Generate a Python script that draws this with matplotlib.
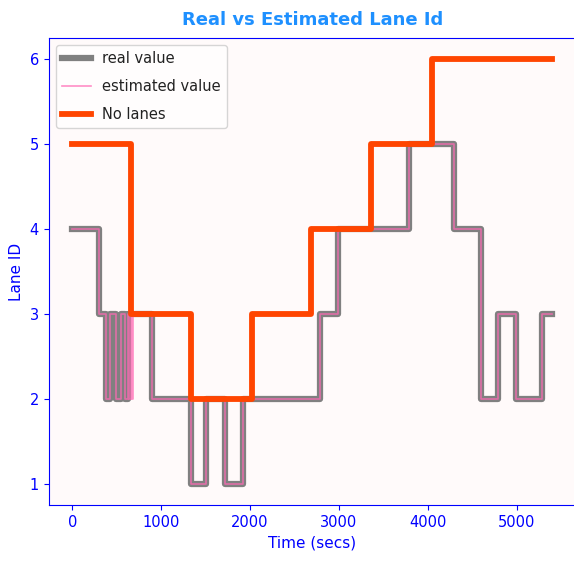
import matplotlib;
matplotlib.use("Agg");
import matplotlib.pyplot as plt;

# step changes (time in secs, lane id), held until the next change
realTimes = [0, 300, 375, 425, 485, 545, 590, 625, 900, 1335, 1504, 1721, 1924,
             2786, 2992, 3791, 4297, 4597, 4796, 4998, 5290, 5403];
realLanes = [4, 3, 2, 3, 2, 3, 2, 3, 2, 1, 2, 1, 2,
             3, 4, 5, 4, 2, 3, 2, 3, 3];

estTimes = [0, 300, 375, 425, 485, 545, 590, 625, 640, 655, 670, 685, 900, 1335, 1504,
            1721, 1924, 2786, 2992, 3791, 4297, 4597, 4796, 4998, 5290, 5403];
estLanes = [4, 3, 2, 3, 2, 3, 2, 3, 2, 3, 2, 3, 2, 1, 2,
            1, 2, 3, 4, 5, 4, 2, 3, 2, 3, 3];

noLaneTimes = [0, 660, 1335, 2025, 2685, 3360, 4046, 5403];
noLaneValues = [5, 3, 2, 3, 4, 5, 6, 6];

def main():
    fig = plt.figure(figsize=(5.74, 5.61), dpi=100);
    ax = fig.add_axes([0.0845, 0.0998, 0.9195, 0.8325]);
    ax.set_facecolor("snow");

    ax.plot(realTimes, realLanes, drawstyle="steps-post", color="grey",
            linewidth=4.5, label="real value");
    ax.plot(estTimes, estLanes, drawstyle="steps-post", color="hotpink",
            alpha=0.75, linewidth=1.2, label="estimated value");
    ax.plot(noLaneTimes, noLaneValues, drawstyle="steps-post", color="orangered",
            linewidth=4.2, label="No lanes");

    ax.set_title("Real vs Estimated Lane Id", color="dodgerblue",
                 fontweight="bold", fontsize=13, pad=9);
    ax.set_xlabel("Time (secs)", color="blue", fontsize=11);
    ax.set_ylabel("Lane ID", color="blue", fontsize=11);
    ax.tick_params(colors="blue", labelsize=10.5);
    for spine in ax.spines.values():
        spine.set_color("blue");

    legend = ax.legend(loc="upper left", fontsize=10.5, labelspacing=0.9);
    for text in legend.get_texts():
        text.set_color("#222222");

    fig.savefig("out.png", dpi=100);

if __name__ == "__main__":
    main();
